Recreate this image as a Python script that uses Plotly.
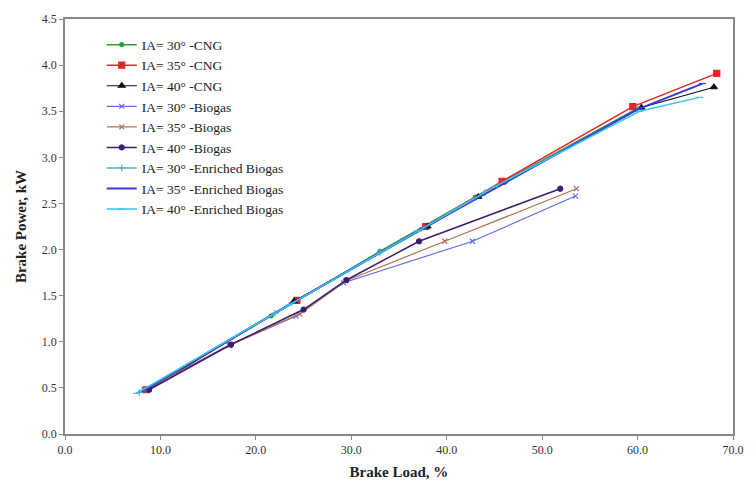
import plotly.graph_objects as go

# Brake load (%) and brake power (kW) per series
cng30_x = [8.3, 21.6, 33.0, 43.0, 59.8]
cng30_y = [0.48, 1.28, 1.98, 2.57, 3.52]
cng35_x = [8.5, 24.3, 37.8, 45.8, 59.5, 68.3]
cng35_y = [0.48, 1.45, 2.25, 2.74, 3.55, 3.91]
cng40_x = [8.7, 24.0, 38.0, 43.3, 60.4, 68.0]
cng40_y = [0.48, 1.44, 2.25, 2.57, 3.54, 3.76]
bio30_x = [8.3, 17.2, 24.2, 29.2, 42.7, 53.5]
bio30_y = [0.48, 0.96, 1.28, 1.64, 2.09, 2.58]
bio35_x = [8.5, 17.3, 24.6, 29.4, 39.8, 53.6]
bio35_y = [0.48, 0.97, 1.30, 1.66, 2.09, 2.66]
bio40_x = [8.8, 17.4, 25.0, 29.5, 37.1, 51.9]
bio40_y = [0.48, 0.97, 1.35, 1.67, 2.09, 2.66]
enr30_x = [7.8, 22.0, 33.0, 44.0, 60.0]
enr30_y = [0.45, 1.31, 1.97, 2.62, 3.52]
enr35_x = [8.0, 23.8, 37.5, 46.0, 60.0, 66.8]
enr35_y = [0.46, 1.42, 2.23, 2.72, 3.52, 3.80]
enr40_x = [7.5, 23.5, 37.0, 45.0, 60.2, 66.5]
enr40_y = [0.44, 1.40, 2.20, 2.68, 3.50, 3.65]

names = ["IA= 30° -CNG", "IA= 35° -CNG", "IA= 40° -CNG",
         "IA= 30° -Biogas", "IA= 35° -Biogas", "IA= 40° -Biogas",
         "IA= 30° -Enriched Biogas", "IA= 35° -Enriched Biogas", "IA= 40° -Enriched Biogas"]
xs = [cng30_x, cng35_x, cng40_x, bio30_x, bio35_x, bio40_x, enr30_x, enr35_x, enr40_x]
ys = [cng30_y, cng35_y, cng40_y, bio30_y, bio35_y, bio40_y, enr30_y, enr35_y, enr40_y]
colors = ["#2e9a3e", "#e82424", "#111111", "#6a6ae8", "#b5705a", "#3a1f6e",
          "#5fb3b3", "#3a3ad8", "#35c8ee"]
symbols = ["circle", "square", "triangle-up", "x-thin", "x-thin", "circle",
           "cross-thin", "line-ew", "line-ew"]
sizes = [4, 6, 6, 5, 5, 5, 5, 5, 5]
widths = [1.5, 1.5, 1.2, 1.2, 1.2, 1.5, 1.5, 2.0, 1.5]

fig = go.Figure()
for n, x, y, c, s, sz, w in zip(names, xs, ys, colors, symbols, sizes, widths):
    fig.add_trace(go.Scatter(
        x=x, y=y, name=n, mode="lines+markers",
        line=dict(color=c, width=w),
        marker=dict(color=c, symbol=s, size=sz, line=dict(color=c, width=1.2)),
    ))

axis_common = dict(
    showline=True, linecolor="#888888", linewidth=1.5, mirror=True,
    ticks="outside", ticklen=4, tickcolor="#888888", showgrid=False, zeroline=False,
    tickfont=dict(family="Liberation Serif", size=12, color="#333333"),
)
fig.update_layout(
    width=756, height=490,
    margin=dict(l=65, r=14, t=12, b=55),
    paper_bgcolor="white", plot_bgcolor="white",
    font=dict(family="Liberation Serif", color="#222222"),
    xaxis=dict(range=[0, 70], dtick=10, tickformat=".1f",
               title=dict(text="<b>Brake Load, %</b>", font=dict(size=15), standoff=10),
               **axis_common),
    yaxis=dict(range=[0, 4.5], dtick=0.5, tickformat=".1f",
               title=dict(text="<b>Brake Power, kW</b>", font=dict(size=15), standoff=12),
               **axis_common),
    legend=dict(x=0.055, y=0.975, xanchor="left", yanchor="top",
                bgcolor="rgba(0,0,0,0)", font=dict(size=13.5, family="Liberation Serif"),
                tracegroupgap=0, itemwidth=30),
    showlegend=True,
)
fig.write_html("out.html")
